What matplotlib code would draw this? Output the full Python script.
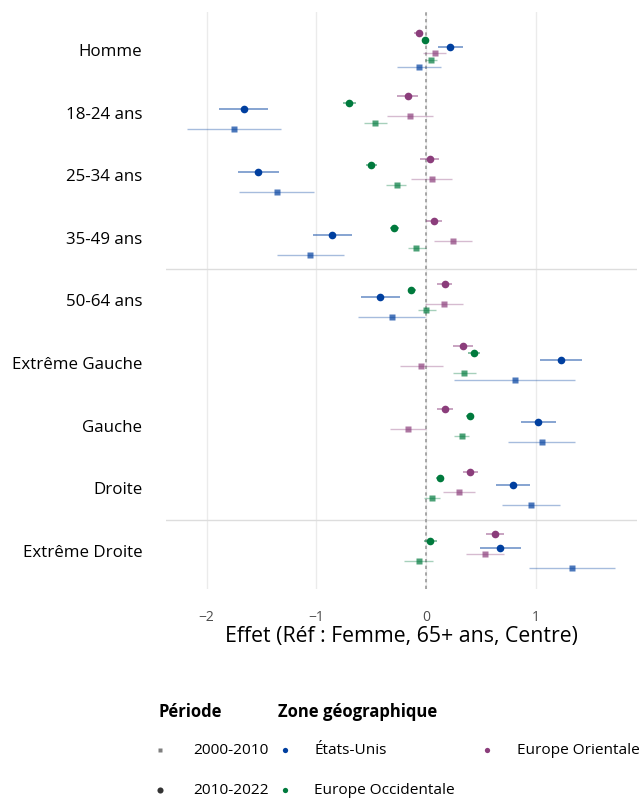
import numpy as np
import matplotlib
matplotlib.use("Agg")
import matplotlib.pyplot as plt
from matplotlib.lines import Line2D

plt.rcParams['font.family'] = ['Open Sans', 'DejaVu Sans']

# categories (top to bottom)
categories = ["Homme", "18-24 ans", "25-34 ans", "35-49 ans", "50-64 ans",
              "Extrême Gauche", "Gauche", "Droite", "Extrême Droite"]

# estimates and CI bounds, per zone and period
# États-Unis
us_22 = [0.219, -1.662, -1.531, -0.854, -0.422, 1.231, 1.018, 0.793, 0.675]
us_22_lo = [0.107, -1.884, -1.714, -1.03, -0.593, 1.039, 0.86, 0.638, 0.489]
us_22_hi = [0.331, -1.44, -1.343, -0.675, -0.243, 1.422, 1.179, 0.948, 0.863]
us_10 = [-0.067, -1.75, -1.361, -1.054, -0.316, 0.805, 1.051, 0.951, 1.331]
us_10_lo = [-0.27, -2.18, -1.705, -1.358, -0.617, 0.252, 0.741, 0.687, 0.936]
us_10_hi = [0.137, -1.325, -1.018, -0.747, -0.009, 1.355, 1.358, 1.219, 1.723]
# Europe Occidentale
we_22 = [-0.012, -0.702, -0.501, -0.295, -0.134, 0.431, 0.398, 0.122, 0.036]
we_22_lo = [-0.04, -0.76, -0.547, -0.334, -0.17, 0.38, 0.365, 0.091, -0.024]
we_22_hi = [0.016, -0.64, -0.45, -0.249, -0.097, 0.486, 0.431, 0.158, 0.1]
we_10 = [0.04, -0.465, -0.27, -0.091, 0.0, 0.346, 0.322, 0.052, -0.07]
we_10_lo = [-0.015, -0.57, -0.365, -0.17, -0.079, 0.246, 0.252, -0.018, -0.2]
we_10_hi = [0.097, -0.358, -0.18, -0.006, 0.085, 0.45, 0.392, 0.128, 0.064]
# Europe Orientale
eo_22 = [-0.067, -0.17, 0.03, 0.07, 0.167, 0.334, 0.17, 0.401, 0.623]
eo_22_lo = [-0.11, -0.264, -0.052, 0.0, 0.1, 0.246, 0.094, 0.331, 0.547]
eo_22_hi = [-0.025, -0.073, 0.112, 0.146, 0.237, 0.426, 0.246, 0.471, 0.705]
eo_10 = [0.076, -0.152, 0.049, 0.243, 0.158, -0.043, -0.17, 0.295, 0.532]
eo_10_lo = [-0.025, -0.358, -0.137, 0.073, -0.015, -0.237, -0.334, 0.155, 0.359]
eo_10_hi = [0.18, 0.058, 0.237, 0.416, 0.331, 0.155, 0.0, 0.441, 0.708]

zones = ["États-Unis", "Europe Occidentale", "Europe Orientale"]
periods = ["2000-2010", "2010-2022"]
colors = {"États-Unis": "#003f9f", "Europe Occidentale": "#007a3d",
          "Europe Orientale": "#8b3d7b"}

# series in drawing order, top to bottom inside a row
series = [
    ("Europe Orientale", "2010-2022", eo_22, eo_22_lo, eo_22_hi),
    ("Europe Occidentale", "2010-2022", we_22, we_22_lo, we_22_hi),
    ("États-Unis", "2010-2022", us_22, us_22_lo, us_22_hi),
    ("Europe Orientale", "2000-2010", eo_10, eo_10_lo, eo_10_hi),
    ("Europe Occidentale", "2000-2010", we_10, we_10_lo, we_10_hi),
    ("États-Unis", "2000-2010", us_10, us_10_lo, us_10_hi),
]
offsets = np.linspace(-0.266, 0.266, 6)

fig = plt.figure(figsize=(6.42, 7.98), dpi=100)
ax = fig.add_axes([0.2586, 0.2619, 0.7336, 0.7231])

ypos = np.arange(len(categories))
for k, (zone, per, est, lo, hi) in enumerate(series):
    y = ypos + offsets[k]
    c = colors[zone]
    if per == "2010-2022":
        ax.hlines(y, lo, hi, color=c, lw=1.1, alpha=0.6, zorder=3)
        ax.plot(est, y, "o", color=c, ms=5.5, mec="none", zorder=4)
    else:
        ax.hlines(y, lo, hi, color=c, lw=1.0, alpha=0.35, zorder=3)
        ax.plot(est, y, "s", color=c, ms=4, mec="none", alpha=0.7, zorder=4)

ax.axvline(0, color="#999999", ls=(0, (2, 2)), lw=1.2, zorder=2)
for yl in [3.5, 7.5]:
    ax.axhline(yl, color="#dddddd", lw=1, zorder=1)

ax.set_xlim(-2.37, 1.92)
ax.set_ylim(8.607, -0.607)
ax.set_xticks([-2, -1, 0, 1])
ax.set_xticklabels(["\u22122", "\u22121", "0", "1"])
ax.set_yticks(ypos)
ax.set_yticklabels(categories)
ax.grid(axis="x", color="#ebebeb", lw=1)
ax.set_axisbelow(True)
for s in ax.spines.values():
    s.set_visible(False)
ax.tick_params(axis="x", length=0, pad=15, labelsize=10, labelcolor="#4d4d4d")
ax.tick_params(axis="y", length=0, pad=17, labelsize=12.2, labelcolor="black")
ax.set_xlabel("Effet (Réf : Femme, 65+ ans, Centre)", fontsize=15.3, labelpad=1)


# legend, drawn by hand in figure pixels
def px(x, y):
    return x / 642, 1 - y / 798

fig.text(*px(158, 712), "Période", fontsize=12, fontweight="bold", va="center")
fig.text(*px(278, 712), "Zone géographique", fontsize=12, fontweight="bold",
         va="center")
leg_items = [
    (160, 750, "s", "#7f7f7f", 3.5, "2000-2010", 193),
    (160, 790, "o", "#333333", 4.4, "2010-2022", 193),
    (285, 750, "o", colors["États-Unis"], 3.8, "États-Unis", 314),
    (285, 790, "o", colors["Europe Occidentale"], 3.8, "Europe Occidentale", 314),
    (487, 750, "o", colors["Europe Orientale"], 3.8, "Europe Orientale", 517),
]
for mx, my, m, c, ms, lab, tx in leg_items:
    fig.add_artist(Line2D([mx / 642], [1 - my / 798], marker=m, color=c, ms=ms,
                          mec="none", transform=fig.transFigure))
    fig.text(*px(tx, my), lab, fontsize=11.1, va="center")

fig.savefig("out.png", dpi=100)
